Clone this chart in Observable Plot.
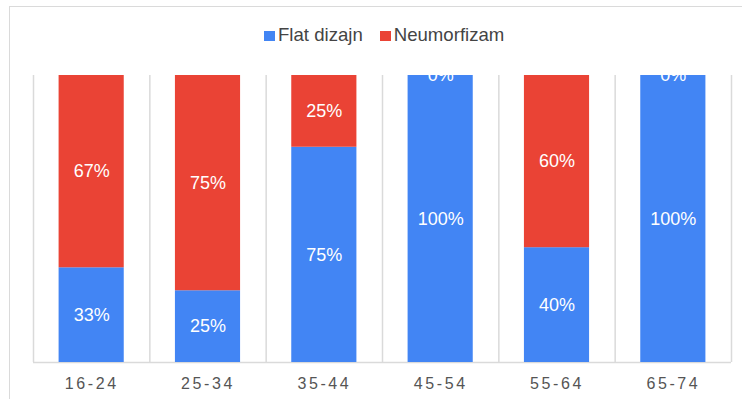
<!DOCTYPE html>
<html>
<head>
<meta charset="utf-8">
<script src="https://cdn.jsdelivr.net/npm/d3@7"></script>
<script src="https://cdn.jsdelivr.net/npm/@observablehq/plot@0.6"></script>
<style>
  html, body { margin: 0; padding: 0; background: #fff; }
  #wrap { position: relative; width: 742px; height: 399px; overflow: hidden; font-family: "Liberation Sans", Arial, sans-serif; }
  #frame { position: absolute; left: 9px; top: 6px; right: -2px; bottom: -2px; border-left: 1.5px solid #dadada; border-top: 1.5px solid #dadada; }
  #legend { position: absolute; left: 264px; top: 25px; height: 20px; line-height: 20px; font-size: 18.6px; color: #444; white-space: nowrap; }
  #legend .item { display: inline-block; margin-right: 17px; }
  #legend .sw { display: inline-block; width: 11px; height: 10px; margin-right: 3px; vertical-align: baseline; }
  #chart { position: absolute; left: 0; top: 60px; }
  #chart g[aria-label="x-axis tick label"] text { letter-spacing: 2.6px; }
</style>
</head>
<body>
<div id="wrap">
  <div id="frame"></div>
  <div id="legend"></div>
  <div id="chart"></div>
</div>
<script>
// Age groups and the share (%) of respondents preferring each design style
const categories = ["16-24", "25-34", "35-44", "45-54", "55-64", "65-74"];
const series = ["Flat dizajn", "Neumorfizam"];
const flatValues = [33, 25, 75, 100, 40, 100];
const neumorphValues = [67, 75, 25, 0, 60, 0];
const colors = ["#4285f4", "#ea4335"];

const data = categories.flatMap((age, i) => [
  {age, series: series[0], value: flatValues[i]},
  {age, series: series[1], value: neumorphValues[i]}
]);

const width = 742, height = 339;
const marginLeft = 33, marginRight = 11, marginTop = 15, marginBottom = 37;
const step = (width - marginLeft - marginRight) / categories.length;
const grid = "#dadada";

const chart = Plot.plot({
  width, height, marginLeft, marginRight, marginTop, marginBottom,
  style: {fontFamily: "'Liberation Sans', Arial, sans-serif", background: "transparent", overflow: "visible"},
  x: {domain: categories, paddingInner: 0.44, paddingOuter: 0.22, round: false, label: null},
  y: {domain: [0, 100], axis: null},
  color: {domain: series, range: colors},
  marks: [
    // cell separators between the age groups
    Plot.ruleX(categories, {x: d => d, dx: -step / 2, y1: 0, y2: 100, stroke: grid, strokeWidth: 1.5}),
    Plot.ruleX([categories[categories.length - 1]], {x: d => d, dx: step / 2, y1: 0, y2: 100, stroke: grid, strokeWidth: 1.5}),
    Plot.ruleY([0], {stroke: grid, strokeWidth: 1.5}),
    Plot.barY(data, {x: "age", y: "value", fill: "series", order: series}),
    Plot.text(data, Plot.stackY({
      x: "age", y: "value", z: "series", order: series,
      text: d => `${d.value}%`,
      fill: "white", fontSize: 18, clip: true
    })),
    Plot.axisX({tickSize: 0, tickPadding: 15, fontSize: 16, fill: "#555", label: null})
  ]
});
document.getElementById("chart").append(chart);

// legend above the chart
const legend = document.getElementById("legend");
series.forEach((name, i) => {
  const item = document.createElement("span");
  item.className = "item";
  const sw = document.createElement("span");
  sw.className = "sw";
  sw.style.background = colors[i];
  item.append(sw, document.createTextNode(name));
  legend.append(item);
});
</script>
</body>
</html>
